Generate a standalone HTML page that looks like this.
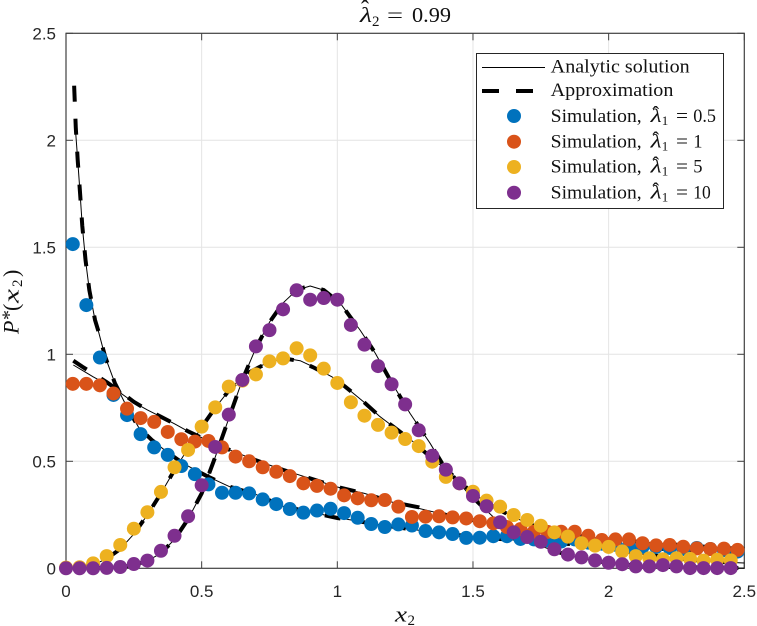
<!DOCTYPE html>
<html>
<head>
<meta charset="utf-8">
<title>Chart</title>
<style>
html,body{margin:0;padding:0;background:#fff;}
svg{display:block;}
.tick{font-family:"Liberation Sans",sans-serif;font-size:17px;fill:#262626;}
.math{font-family:"Liberation Serif",serif;fill:#111;}
.leg{font-family:"Liberation Serif",serif;font-size:18.5px;fill:#111;}
.sub{font-size:13px;}
.it{font-style:italic;}
.hat{font-size:20px;}
</style>
</head>
<body>
<svg id="chart" xmlns="http://www.w3.org/2000/svg" width="757" height="626" viewBox="0 0 757 626">
  <rect x="0" y="0" width="757" height="626" fill="#fff"/>
  <g id="grid"></g>
  <g id="axes"></g>
  <g id="lines"></g>
  <g id="points"></g>

  <g class="math">
    <text x="360" y="22" font-size="21" font-style="italic" textLength="12" lengthAdjust="spacingAndGlyphs">λ</text>
    <text x="365" y="17" font-size="24" text-anchor="middle">ˆ</text>
    <text x="372" y="26" font-size="15">2</text>
    <text x="387" y="22" font-size="21" textLength="16" lengthAdjust="spacingAndGlyphs">=</text>
    <text x="412" y="22" font-size="21" textLength="39" lengthAdjust="spacingAndGlyphs">0.99</text>
  </g>

  <g class="math">
    <text x="395" y="621.5" font-size="22" font-style="italic" textLength="12" lengthAdjust="spacingAndGlyphs">x</text>
    <text x="407.5" y="625" font-size="15">2</text>
  </g>

  <g class="math" transform="translate(18.5,334) rotate(-90)">
    <text x="0" y="0" font-size="22" font-style="italic">P</text>
    <text x="14" y="-3" font-size="20">*</text>
    <text x="23" y="0" font-size="22">(</text>
    <text x="31" y="0" font-size="22" font-style="italic" textLength="14" lengthAdjust="spacingAndGlyphs">x</text>
    <text x="47" y="3.5" font-size="15">2</text>
    <text x="57" y="0" font-size="22">)</text>
  </g>

  <g class="leg">
    <rect x="476.5" y="53.5" width="247" height="155" fill="#fff" stroke="#262626" stroke-width="1"/>
    <line x1="482" y1="67.5" x2="545" y2="67.5" stroke="#000" stroke-width="1"/>
    <text x="550.7" y="72.7" textLength="139" lengthAdjust="spacingAndGlyphs">Analytic solution</text>
    <line x1="482" y1="91" x2="533" y2="91" stroke="#000" stroke-width="4" stroke-dasharray="17 17"/>
    <text x="550.7" y="96" textLength="122.7" lengthAdjust="spacingAndGlyphs">Approximation</text>

    <circle cx="514" cy="116" r="7" fill="#0072BD"/>
    <g transform="translate(0,122)">
      <text x="550.7" y="0" textLength="91" lengthAdjust="spacingAndGlyphs">Simulation,</text>
      <text class="it" x="650.7" y="0" textLength="11" lengthAdjust="spacingAndGlyphs">λ</text>
      <text class="hat" x="655.7" y="-2" text-anchor="middle">ˆ</text>
      <text class="sub" x="661.7" y="3">1</text>
      <text x="676" y="0" textLength="12" lengthAdjust="spacingAndGlyphs">=</text>
      <text x="693.3" y="0" textLength="22.7" lengthAdjust="spacingAndGlyphs">0.5</text>
    </g>

    <circle cx="514" cy="141.7" r="7" fill="#D95319"/>
    <g transform="translate(0,147.3)">
      <text x="550.7" y="0" textLength="91" lengthAdjust="spacingAndGlyphs">Simulation,</text>
      <text class="it" x="650.7" y="0" textLength="11" lengthAdjust="spacingAndGlyphs">λ</text>
      <text class="hat" x="655.7" y="-2" text-anchor="middle">ˆ</text>
      <text class="sub" x="661.7" y="3">1</text>
      <text x="676" y="0" textLength="12" lengthAdjust="spacingAndGlyphs">=</text>
      <text x="693.3" y="0">1</text>
    </g>

    <circle cx="514" cy="167" r="7" fill="#EDB120"/>
    <g transform="translate(0,172.7)">
      <text x="550.7" y="0" textLength="91" lengthAdjust="spacingAndGlyphs">Simulation,</text>
      <text class="it" x="650.7" y="0" textLength="11" lengthAdjust="spacingAndGlyphs">λ</text>
      <text class="hat" x="655.7" y="-2" text-anchor="middle">ˆ</text>
      <text class="sub" x="661.7" y="3">1</text>
      <text x="676" y="0" textLength="12" lengthAdjust="spacingAndGlyphs">=</text>
      <text x="693.3" y="0">5</text>
    </g>

    <circle cx="514" cy="192.7" r="7" fill="#7E2F8E"/>
    <g transform="translate(0,198.3)">
      <text x="550.7" y="0" textLength="91" lengthAdjust="spacingAndGlyphs">Simulation,</text>
      <text class="it" x="650.7" y="0" textLength="11" lengthAdjust="spacingAndGlyphs">λ</text>
      <text class="hat" x="655.7" y="-2" text-anchor="middle">ˆ</text>
      <text class="sub" x="661.7" y="3">1</text>
      <text x="676" y="0" textLength="12" lengthAdjust="spacingAndGlyphs">=</text>
      <text x="693.3" y="0" textLength="17.5" lengthAdjust="spacingAndGlyphs">10</text>
    </g>
  </g>
</svg>
<script>
const xTicks = [0, 0.5, 1, 1.5, 2, 2.5];
const yTicks = [0, 0.5, 1, 1.5, 2, 2.5];
const xTickLabels = ["0", "0.5", "1", "1.5", "2", "2.5"];
const yTickLabels = ["0", "0.5", "1", "1.5", "2", "2.5"];

const simXLow = [0.025,0.075,0.125,0.175,0.225,0.275,0.325,0.375,0.425,0.475,0.525,0.575,0.625,0.675,0.725,0.775,0.825,0.875,0.925,0.975,1.025,1.075,1.125,1.175,1.225,1.275,1.325,1.375,1.425,1.475,1.525,1.575,1.625,1.675,1.725,1.775,1.825,1.875,1.925,1.975,2.025,2.075,2.125,2.175,2.225,2.275,2.325,2.375,2.425,2.475];
const simXHigh = [0,0.05,0.1,0.15,0.2,0.25,0.3,0.35,0.4,0.45,0.5,0.55,0.6,0.65,0.7,0.75,0.8,0.85,0.9,0.95,1,1.05,1.1,1.15,1.2,1.25,1.3,1.35,1.4,1.45,1.5,1.55,1.6,1.65,1.7,1.75,1.8,1.85,1.9,1.95,2,2.05,2.1,2.15,2.2,2.25,2.3,2.35,2.4,2.45];

const simBlue = [1.515,1.23,0.985,0.81,0.716,0.627,0.565,0.53,0.478,0.44,0.392,0.353,0.353,0.35,0.322,0.3,0.277,0.26,0.27,0.278,0.258,0.236,0.207,0.193,0.205,0.2,0.174,0.168,0.16,0.142,0.143,0.15,0.15,0.137,0.135,0.13,0.125,0.135,0.12,0.115,0.11,0.105,0.1,0.1,0.095,0.09,0.095,0.09,0.085,0.078];
const simOrange = [0.862,0.862,0.855,0.817,0.746,0.702,0.684,0.637,0.603,0.592,0.595,0.565,0.522,0.5,0.472,0.451,0.431,0.397,0.385,0.372,0.341,0.327,0.318,0.319,0.288,0.24,0.241,0.243,0.238,0.233,0.22,0.21,0.193,0.183,0.171,0.17,0.171,0.171,0.152,0.132,0.135,0.135,0.117,0.107,0.109,0.101,0.093,0.09,0.092,0.086];
const simYellow = [0.003,0.005,0.023,0.057,0.109,0.185,0.262,0.357,0.472,0.553,0.662,0.752,0.849,0.877,0.906,0.967,0.981,1.028,0.995,0.933,0.866,0.776,0.713,0.67,0.634,0.604,0.571,0.498,0.427,0.397,0.358,0.316,0.288,0.249,0.226,0.199,0.168,0.148,0.117,0.106,0.1,0.079,0.057,0.047,0.042,0.047,0.044,0.036,0.04,0.037];
const simPurple = [0,0,0,0.002,0.006,0.02,0.036,0.082,0.152,0.243,0.388,0.567,0.718,0.88,1.037,1.113,1.21,1.299,1.255,1.263,1.255,1.137,1.045,0.945,0.86,0.766,0.645,0.526,0.461,0.397,0.338,0.29,0.215,0.168,0.146,0.124,0.089,0.064,0.051,0.037,0.026,0.019,0.009,0.009,0.015,0.009,0.001,0.001,0.001,0.001];

const analyticBlueX = [0.036,0.043,0.052,0.06,0.072,0.086,0.107,0.119,0.144,0.18,0.224,0.267,0.316,0.371,0.432,0.519,0.604,0.7,0.8,0.9,1,1.1,1.2,1.3,1.4,1.5,1.6,1.7,1.8,1.9,2,2.1,2.2,2.3,2.4,2.5];
const analyticBlueY = [2.03,1.91,1.75,1.6,1.44,1.3,1.16,1.11,0.99,0.866,0.755,0.66,0.6,0.545,0.49,0.431,0.381,0.345,0.29,0.263,0.237,0.215,0.195,0.178,0.162,0.148,0.137,0.127,0.118,0.11,0.103,0.097,0.091,0.086,0.081,0.076];
const approxBlueX = [0.03,0.036,0.043,0.052,0.06,0.072,0.086,0.107,0.119,0.144,0.18,0.224,0.267,0.316,0.371,0.432,0.519,0.604,0.7,0.8,0.9,1,1.1,1.2,1.3,1.4,1.5,1.6,1.7,1.8,1.9,2,2.1,2.2,2.3,2.4,2.5];
const approxBlueY = [2.255,2.06,1.91,1.75,1.6,1.44,1.3,1.16,1.11,0.99,0.866,0.755,0.66,0.6,0.545,0.49,0.431,0.381,0.345,0.29,0.263,0.235,0.215,0.195,0.178,0.162,0.148,0.137,0.127,0.118,0.11,0.103,0.097,0.091,0.086,0.081,0.076];

const orangeX = [0.027,0.06,0.1,0.15,0.2,0.25,0.3,0.35,0.4,0.45,0.5,0.6,0.7,0.8,0.9,1,1.1,1.2,1.3,1.4,1.5,1.6,1.7,1.8,1.9,2,2.1,2.2,2.3,2.4,2.5];
const analyticOrangeY = [0.95,0.925,0.895,0.86,0.82,0.775,0.74,0.708,0.675,0.64,0.61,0.555,0.505,0.46,0.42,0.38,0.35,0.31,0.28,0.25,0.225,0.2,0.18,0.165,0.15,0.135,0.125,0.115,0.105,0.097,0.09];
const approxOrangeY = [0.97,0.942,0.91,0.87,0.825,0.778,0.74,0.708,0.675,0.64,0.61,0.555,0.505,0.46,0.42,0.38,0.35,0.31,0.285,0.25,0.225,0.2,0.18,0.165,0.15,0.135,0.125,0.115,0.105,0.097,0.09];

const yellowX = [0.05,0.1,0.15,0.2,0.25,0.3,0.35,0.4,0.45,0.5,0.55,0.6,0.656,0.74,0.807,0.863,0.91,0.98,1.028,1.096,1.157,1.206,1.279,1.342,1.403,1.5,1.6,1.7,1.8,1.9,2,2.1,2.2,2.3,2.4,2.5];
const analyticYellowY = [0.003,0.015,0.045,0.09,0.16,0.25,0.35,0.46,0.56,0.66,0.75,0.83,0.903,0.96,0.982,0.97,0.942,0.895,0.85,0.779,0.709,0.662,0.592,0.521,0.459,0.35,0.27,0.21,0.165,0.125,0.095,0.07,0.055,0.04,0.03,0.025];
const approxYellowY = [0.003,0.015,0.045,0.09,0.16,0.25,0.35,0.46,0.56,0.66,0.75,0.83,0.903,0.958,0.98,0.968,0.94,0.895,0.85,0.779,0.709,0.662,0.592,0.521,0.459,0.35,0.27,0.21,0.165,0.125,0.095,0.07,0.055,0.04,0.03,0.025];

const purpleX = [0.1,0.15,0.2,0.25,0.3,0.35,0.4,0.45,0.5,0.55,0.6,0.65,0.7,0.75,0.8,0.85,0.9,0.95,1.01,1.047,1.084,1.14,1.188,1.268,1.342,1.39,1.477,1.574,1.65,1.7,1.8,1.9,2,2.1,2.2,2.5];
const analyticPurpleY = [0.001,0.002,0.005,0.015,0.035,0.07,0.135,0.23,0.35,0.52,0.7,0.88,1.03,1.15,1.24,1.3,1.319,1.3,1.24,1.176,1.113,1.005,0.895,0.724,0.584,0.483,0.358,0.241,0.17,0.13,0.08,0.045,0.025,0.013,0.007,0.001];
const approxPurpleY = [0.001,0.002,0.005,0.015,0.035,0.07,0.135,0.23,0.35,0.52,0.7,0.88,1.03,1.15,1.24,1.302,1.32,1.3,1.24,1.176,1.113,1.005,0.895,0.724,0.584,0.483,0.358,0.241,0.17,0.13,0.08,0.045,0.025,0.013,0.007,0.001];

const svgNS = "http://www.w3.org/2000/svg";
const X0 = 66, X1 = 744.3, Y0 = 568.3, Y1 = 33.3;
const xDomainMax = 2.5, yDomainMax = 2.5;
function xScale(v) { return X0 + (v / xDomainMax) * (X1 - X0); }
function yScale(v) { return Y0 - (v / yDomainMax) * (Y0 - Y1); }
function make(tag, parent, attrs) {
  const el = document.createElementNS(svgNS, tag);
  for (const k in attrs) el.setAttribute(k, attrs[k]);
  parent.appendChild(el);
  return el;
}

const gridG = document.getElementById("grid");
const axesG = document.getElementById("axes");
const linesG = document.getElementById("lines");
const pointsG = document.getElementById("points");

xTicks.forEach(function (t, i) {
  const x = xScale(t);
  if (i > 0 && i < xTicks.length - 1) {
    const el = make("line", gridG, {x1: x, x2: x, y1: Y1, y2: Y0, stroke: "#e4e4e4", "stroke-width": 1});
    
    
  }
  const b = make("line", axesG, {x1: x, x2: x, y1: Y0, y2: Y0 - 7, stroke: "#404040", "stroke-width": 1});
  
  
  const tp = make("line", axesG, {x1: x, x2: x, y1: Y1, y2: Y1 + 7, stroke: "#404040", "stroke-width": 1});
  
  
  const label = make("text", axesG, {x: x, y: 597, "text-anchor": "middle", "class": "tick"});
  label.textContent = xTickLabels[i];
  
  
});

yTicks.forEach(function (t, i) {
  const y = yScale(t);
  if (i > 0 && i < yTicks.length - 1) {
    const el = make("line", gridG, {x1: X0, x2: X1, y1: y, y2: y, stroke: "#e4e4e4", "stroke-width": 1});
    
    
  }
  const l = make("line", axesG, {x1: X0, x2: X0 + 7, y1: y, y2: y, stroke: "#404040", "stroke-width": 1});
  
  
  const r = make("line", axesG, {x1: X1, x2: X1 - 7, y1: y, y2: y, stroke: "#404040", "stroke-width": 1});
  
  
  const label = make("text", axesG, {x: 56, y: y + 6, "text-anchor": "end", "class": "tick"});
  label.textContent = yTickLabels[i];
  
  
});

const frame = make("rect", axesG, {x: X0, y: Y1, width: X1 - X0, height: Y0 - Y1, fill: "none", stroke: "#404040", "stroke-width": 1.2});



function pathFrom(xs, ys) {
  return xs.map(function (x, i) {
    return (i ? "L" : "M") + xScale(x).toFixed(2) + " " + yScale(ys[i]).toFixed(2);
  }).join("");
}

[
  [analyticBlueX, analyticBlueY],
  [orangeX, analyticOrangeY],
  [yellowX, analyticYellowY],
  [purpleX, analyticPurpleY]
].forEach(function (c) {
  const el = make("path", linesG, {d: pathFrom(c[0], c[1]), fill: "none", stroke: "#000", "stroke-width": 1, "stroke-linejoin": "round"});
  
  
});

[
  [approxBlueX, approxBlueY],
  [orangeX, approxOrangeY],
  [yellowX, approxYellowY],
  [purpleX, approxPurpleY]
].forEach(function (c) {
  const el = make("path", linesG, {d: pathFrom(c[0], c[1]), fill: "none", stroke: "#000", "stroke-width": 4, "stroke-dasharray": "16 17"});
  
  
});

[
  [simXLow, simBlue, "#0072BD", "blue"],
  [simXLow, simOrange, "#D95319", "orange"],
  [simXHigh, simYellow, "#EDB120", "yellow"],
  [simXHigh, simPurple, "#7E2F8E", "purple"]
].forEach(function (s) {
  s[0].forEach(function (x, i) {
    const el = make("circle", pointsG, {cx: xScale(x).toFixed(2), cy: yScale(s[1][i]).toFixed(2), r: 7, fill: s[2]});
    
    
  });
});
</script>
</body>
</html>
